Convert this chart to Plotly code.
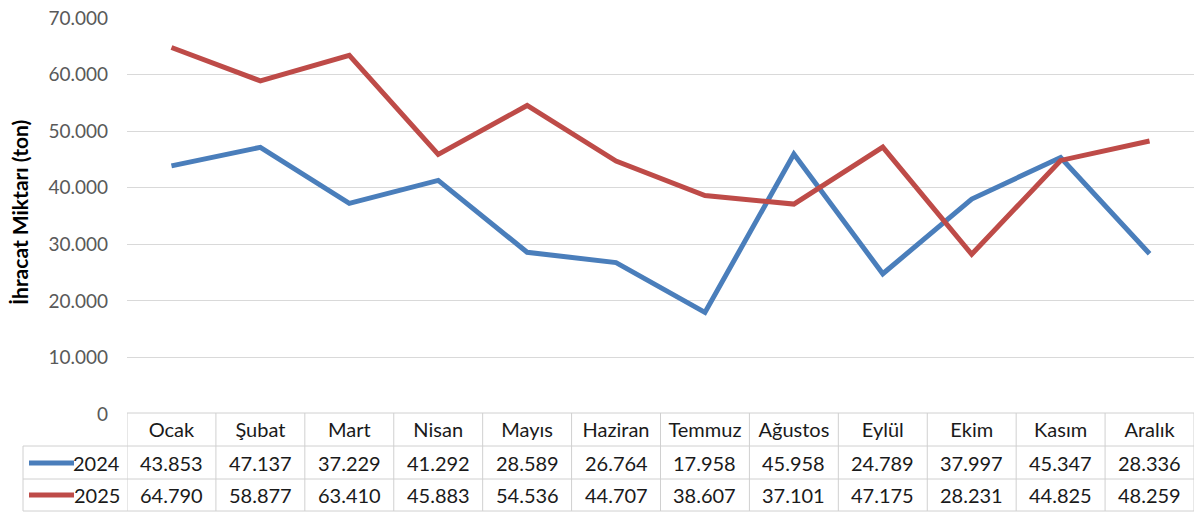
import plotly.graph_objects as go

months = ["Ocak", "Şubat", "Mart", "Nisan", "Mayıs", "Haziran", "Temmuz",
          "Ağustos", "Eylül", "Ekim", "Kasım", "Aralık"]
series_names = ["2024", "2025"]
values_2024 = [43853, 47137, 37229, 41292, 28589, 26764, 17958, 45958, 24789, 37997, 45347, 28336]
values_2025 = [64790, 58877, 63410, 45883, 54536, 44707, 38607, 37101, 47175, 28231, 44825, 48259]
y_ticks = [0, 10000, 20000, 30000, 40000, 50000, 60000, 70000]
y_title = "İhracat Miktarı (ton)"

colors = ["#4A7EBB", "#BE4B48"]
W, H = 1195, 513
ML, MR, MT, MB = 127, 1, 18, 99
PW = W - ML - MR
PH = H - MT - MB
FONT = "Lato"
GRID = "#D9D9D9"
TABLE = "#D0D0D0"


def py(p):  # pixel y -> paper y
    return (H - MB - p) / PH


def px(p):  # pixel x -> paper x
    return (p - ML) / PW


def fmt(v):
    return f"{v:,}".replace(",", ".")


fig = go.Figure()
all_vals = [values_2024, values_2025]
for name, vals, c in zip(series_names, all_vals, colors):
    fig.add_trace(go.Scatter(x=months, y=vals, mode="lines", name=name,
                             line=dict(color=c, width=5), showlegend=False))

shapes = []
annotations = []
y_top, y_r1, y_r2, y_bot = 413, 446, 479, 511
shapes.append(dict(type="line", xref="x", yref="paper", x0=-0.5, x1=11.5,
                   y0=py(y_top), y1=py(y_top), line=dict(color=TABLE, width=1)))
for yy in (y_r1, y_r2, y_bot):
    shapes.append(dict(type="line", xref="paper", yref="paper", x0=px(23), x1=1,
                       y0=py(yy), y1=py(yy), line=dict(color=TABLE, width=1)))
for k in range(len(months) + 1):
    shapes.append(dict(type="line", xref="x", yref="paper", x0=k - 0.5, x1=k - 0.5,
                       y0=py(y_top), y1=py(y_bot), line=dict(color=TABLE, width=1)))
shapes.append(dict(type="line", xref="paper", yref="paper", x0=px(23), x1=px(23),
                   y0=py(y_r1), y1=py(y_bot), line=dict(color=TABLE, width=1)))

row_centers = [463, 495]
for name, vals, c, yc in zip(series_names, all_vals, colors, row_centers):
    shapes.append(dict(type="line", xref="paper", yref="paper", x0=px(29), x1=px(74),
                       y0=py(yc), y1=py(yc), line=dict(color=c, width=5)))
    annotations.append(dict(xref="paper", yref="paper", x=px(122), y=py(yc),
                            text=name, showarrow=False, xanchor="right", yanchor="middle",
                            font=dict(family=FONT, size=20, color="#1a1a1a")))
    for m, v in zip(months, vals):
        annotations.append(dict(xref="x", yref="paper", x=m, y=py(yc), text=fmt(v),
                                showarrow=False, xanchor="center", yanchor="middle",
                                font=dict(family=FONT, size=20, color="#1a1a1a")))

annotations.append(dict(xref="paper", yref="paper", x=px(19), y=py(213), text=f"<b>{y_title}</b>",
                        textangle=-90, showarrow=False, xanchor="center", yanchor="middle",
                        font=dict(family=FONT, size=21, color="#000000")))

fig.update_layout(
    width=W, height=H,
    margin=dict(l=ML, r=MR, t=MT, b=MB, autoexpand=False),
    paper_bgcolor="white", plot_bgcolor="white",
    separators=",.",
    shapes=shapes, annotations=annotations,
    xaxis=dict(type="category", range=[-0.5, 11.5], showgrid=False, zeroline=False,
               showline=False, ticks="", ticklabelstandoff=2,
               tickfont=dict(family=FONT, size=20, color="#1a1a1a"), fixedrange=True),
    yaxis=dict(range=[0, 70000], tickvals=y_ticks, tickformat=",d", showgrid=True,
               gridcolor=GRID, gridwidth=1, zeroline=False, showline=False,
               ticks="", ticklabelstandoff=18,
               tickfont=dict(family=FONT, size=19, color="#595959"), fixedrange=True),
)

fig.write_html("out.html", config={"displayModeBar": False},
               post_script="document.body.style.margin='0';document.body.style.overflow='hidden';")
